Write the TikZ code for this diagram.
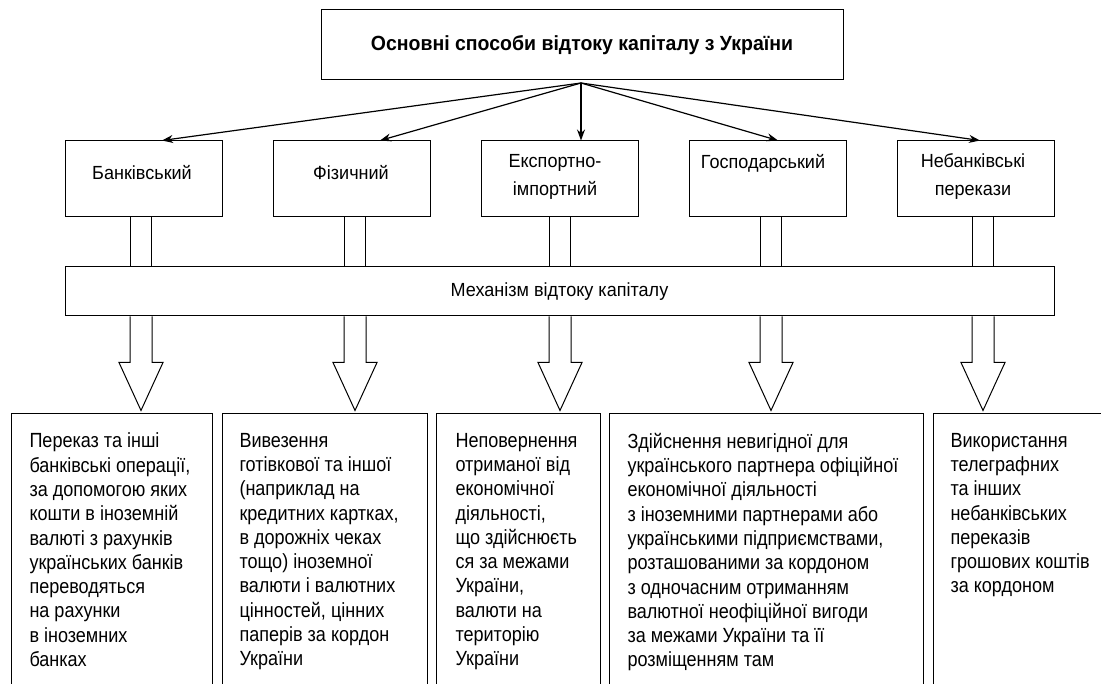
\documentclass[tikz,border=0pt]{standalone}
\usepackage{fontspec}
\setmainfont{Liberation Sans}[FakeStretch=0.95]
\newfontfamily\descfont{Liberation Sans}[FakeStretch=0.88]
\usetikzlibrary{arrows.meta}

\begin{document}
\begin{tikzpicture}[x=1pt, y=-1pt, line width=1pt,
        >={Stealth[length=11pt,width=8pt]}]
        \tikzstyle{titleStyle} = [draw=black, minimum width=522, minimum height=70,
                                  font=\fontsize{20.5}{24}\bfseries]
        \tikzstyle{wayStyle} = [draw=black, minimum width=157, minimum height=76]
        \tikzstyle{wayText} = [align=center, inner sep=0, font=\fontsize{19}{28}\selectfont]
        \tikzstyle{mechStyle} = [draw=black, minimum width=989, minimum height=49,
                                 font=\fontsize{19}{20}\selectfont]
        \tikzstyle{descStyle} = [draw=black, anchor=north west, minimum height=300]
        \tikzstyle{descText} = [anchor=north west, align=left, inner sep=0,
                                font=\descfont\fontsize{20.5}{24.3}\selectfont]
        \tikzstyle{arrowEdge} = [draw=black, line width=1.2pt, ->]
        \tikzstyle{stemEdge} = [draw=black, double=white, double distance=20pt]
        \useasboundingbox (0,0) rectangle (1101,684);

        \node[titleStyle] (main) at (582,45) {Основні способи відтоку капіталу з України};
        \coordinate (top) at (581,83);

        % способи
        \node[wayStyle] (1) at (143.5,179) {};
        \node[wayStyle] (2) at (351.5,179) {};
        \node[wayStyle] (3) at (559.5,179) {};
        \node[wayStyle] (4) at (768,179) {};
        \node[wayStyle] (5) at (976,179) {};
        \node[wayText] at (142,173) {Банківський};
        \node[wayText] at (351,173) {Фізичний};
        \node[wayText] at (555,177) {Експортно-\\імпортний};
        \node[wayText] at (763,163) {Господарський};
        \node[wayText] at (973,177) {Небанківські\\перекази};

        \node[mechStyle] (mech) at (559.5,291.5) {Механізм відтоку капіталу};

        \coordinate (s1) at (141,0);
        \coordinate (s2) at (355,0);
        \coordinate (s3) at (560,0);
        \coordinate (s4) at (771,0);
        \coordinate (s5) at (983,0);

        \foreach \to/\dx in {1/18.5, 2/28.5, 3/21.5, 4/10, 5/4}
            \draw[arrowEdge] (top) -- ([xshift=\dx]\to.north);
        \foreach \from in {1,...,5}
            \draw[stemEdge] (\from.south -| s\from) -- (mech.north -| s\from);
        \foreach \from in {1,...,5}
            \draw (mech.south -| s\from) ++(-11,0) -- ++(0,46) -- ++(-11,0)
                -- ++(22,48) -- ++(22,-48) -- ++(-11,0) -- ++(0,-46);

        % механізми
        \node[descStyle, minimum width=201] (d1) at (11,413) {};
        \node[descStyle, minimum width=205] (d2) at (222,413) {};
        \node[descStyle, minimum width=164] (d3) at (436,413) {};
        \node[descStyle, minimum width=314] (d4) at (609,413) {};
        \node[descStyle, minimum width=200] (d5) at (933,413) {};
        \node[descText] at ([shift={(18,19.5)}]d1.north west) {Переказ та інші\\банківські операції,\\за допомогою яких\\кошти в іноземній\\валюті з рахунків\\українських банків\\переводяться\\на рахунки\\в іноземних\\банках};
        \node[descText] at ([shift={(17,19.5)}]d2.north west) {Вивезення\\готівкової та іншої\\(наприклад на\\кредитних картках,\\в дорожніх чеках\\тощо) іноземної\\валюти і валютних\\цінностей, цінних\\паперів за кордон\\України};
        \node[descText] at ([shift={(19,19.5)}]d3.north west) {Неповернення\\отриманої від\\економічної\\діяльності,\\що здійснюєть\\ся за межами\\України,\\валюти на\\територію\\України};
        \node[descText] at ([shift={(18,19.5)}]d4.north west) {Здійснення невигідної для\\українського партнера офіційної\\економічної діяльності\\з іноземними партнерами або\\українськими підприємствами,\\розташованими за кордоном\\з одночасним отриманням\\валютної неофіційної вигоди\\за межами України та її\\розміщенням там};
        \node[descText] at ([shift={(17,19.5)}]d5.north west) {Використання\\телеграфних\\та інших\\небанківських\\переказів\\грошових коштів\\за кордоном};
    \end{tikzpicture}
\end{document}
